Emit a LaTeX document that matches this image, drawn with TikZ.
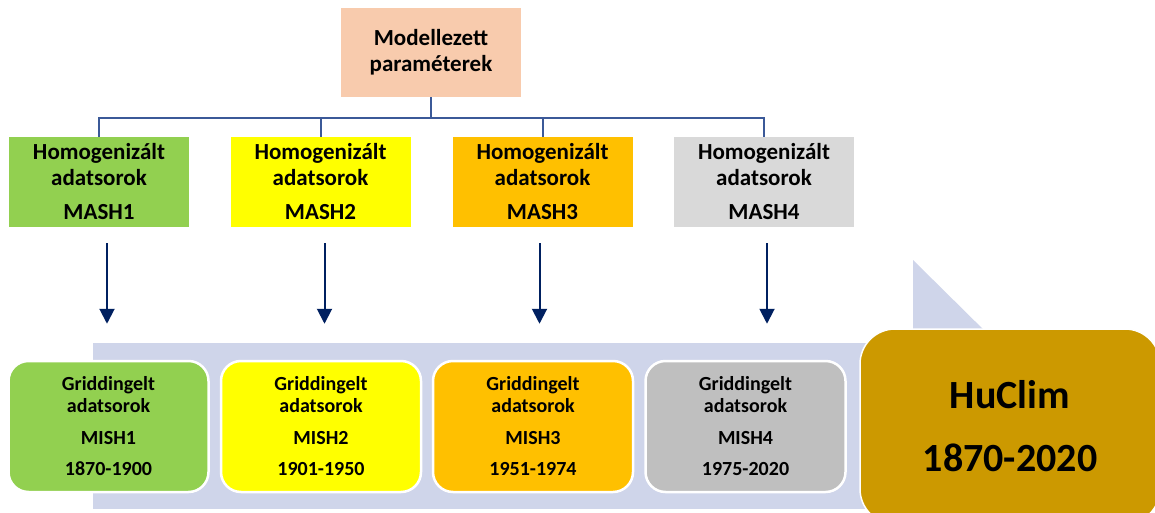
\documentclass[tikz,border=0pt]{standalone}
\usepackage{fontspec}
\setmainfont{Carlito}
\usetikzlibrary{arrows.meta}
\definecolor{peach}{HTML}{F8CBAD}
\definecolor{mgreen}{HTML}{92D050}
\definecolor{myellow}{HTML}{FFFF00}
\definecolor{morange}{HTML}{FFC000}
\definecolor{mgreylight}{HTML}{D9D9D9}
\definecolor{mgrey}{HTML}{BFBFBF}
\definecolor{mgold}{HTML}{CC9900}
\definecolor{band}{HTML}{CFD5EA}
\definecolor{conncol}{HTML}{3B5998}
\definecolor{navy}{HTML}{002060}
\tikzset{>={Triangle[width=15pt,length=15pt]}}

\begin{document}
\begin{tikzpicture}[x=1pt,y=-1pt,
  txt/.style={font=\bfseries, align=center, inner sep=0pt},
  topbox/.style={txt, fill=peach, minimum width=180pt, minimum height=89pt, font=\bfseries\fontsize{23}{26}\selectfont},
  mashbox/.style={txt, minimum width=180pt, minimum height=90pt, font=\bfseries\fontsize{23}{26}\selectfont},
  mishbox/.style={txt, draw=white, line width=2.5pt, rounded corners=20pt, minimum width=200pt, minimum height=131pt, font=\bfseries\fontsize{20}{22}\selectfont},
  conn/.style={draw=conncol, line width=2pt},
  arr/.style={draw=navy, line width=2pt, ->}]
  \useasboundingbox (0,0) rectangle (1155,513);
  % band behind the lower row
  \fill[band] (93,343) rectangle (1000,509);
  \fill[band] (913,260) -- (913,343) -- (997,343) -- cycle;
  % upper row
  \node[topbox] (top) at (431,52.5) {Modellezett\\paraméterek};
  \node[mashbox, fill=mgreen] (mash1) at (99,182) {Homogenizált\\adatsorok\\[8pt]MASH1};
  \node[mashbox, fill=myellow] (mash2) at (320.5,182) {Homogenizált\\adatsorok\\[8pt]MASH2};
  \node[mashbox, fill=morange] (mash3) at (542.5,182) {Homogenizált\\adatsorok\\[8pt]MASH3};
  \node[mashbox, fill=mgreylight] (mash4) at (764,182) {Homogenizált\\adatsorok\\[8pt]MASH4};
  % lower row
  \node[mishbox, fill=mgreen] (mish1) at (108.5,426.5) {Griddingelt\\adatsorok\\[10pt]MISH1\\[9pt]1870-1900};
  \node[mishbox, fill=myellow] (mish2) at (321,426.5) {Griddingelt\\adatsorok\\[10pt]MISH2\\[9pt]1901-1950};
  \node[mishbox, fill=morange] (mish3) at (533,426.5) {Griddingelt\\adatsorok\\[10pt]MISH3\\[9pt]1951-1974};
  \node[mishbox, fill=mgrey] (mish4) at (745.5,426.5) {Griddingelt\\adatsorok\\[10pt]MISH4\\[9pt]1975-2020};
  \node[txt, draw=white, line width=1.5pt, fill=mgold, rounded corners=35pt, minimum width=300pt, minimum height=195pt,
    font=\bfseries\fontsize{40}{63}\selectfont] (huclim) at (1010,426.5) {HuClim\\1870-2020};
  % tree
  \draw[conn] (top.south) -- ++(0,21) -| (mash1.north);
  \draw[conn] (top.south) -- ++(0,21) -| (mash2.north);
  \draw[conn] (top.south) -- ++(0,21) -| (mash3.north);
  \draw[conn] (top.south) -- ++(0,21) -| (mash4.north);
  % arrows
  \draw[arr, shorten <=16pt, shorten >=36pt] ([xshift=8pt]mash1.south) -- ([xshift=8pt]mash1.south |- mish1.north);
  \draw[arr, shorten <=16pt, shorten >=36pt] ([xshift=4pt]mash2.south) -- ([xshift=4pt]mash2.south |- mish2.north);
  \draw[arr, shorten <=16pt, shorten >=36pt] ([xshift=-3pt]mash3.south) -- ([xshift=-3pt]mash3.south |- mish3.north);
  \draw[arr, shorten <=16pt, shorten >=36pt] ([xshift=3pt]mash4.south) -- ([xshift=3pt]mash4.south |- mish4.north);
\end{tikzpicture}
\end{document}
